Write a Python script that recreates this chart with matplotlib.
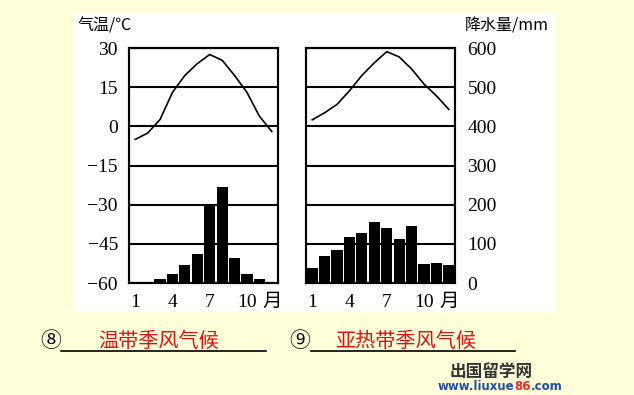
import matplotlib
matplotlib.use("Agg")
import matplotlib.pyplot as plt
from matplotlib.patches import Rectangle

# ---- data ----
months = list(range(1, 13))
temp_a = [-5, -2.6, 2.6, 13, 19.5, 24, 27.5, 25.3, 19.5, 13, 3.9, -2]
prec_a = [0, 0, 11, 24, 47, 75, 200, 245, 65, 24, 11, 0]
temp_b = [2.5, 5.2, 8.4, 13.6, 19.5, 24.3, 28.6, 26.6, 22, 16.2, 11.7, 6.5]
prec_b = [38, 68, 84, 117, 128, 155, 141, 112, 146, 49, 51, 47]
temp_ticks = [30, 15, 0, -15, -30, -45, -60]
prec_ticks = [600, 500, 400, 300, 200, 100, 0]
x_ticks = [1, 4, 7, 10, 12]
x_labels = ["1", "4", "7", "10", "月"]
answer_a = "温带季风气候"
answer_b = "亚热带季风气候"

W, H = 634, 395
BG = "#FFFFDA"
fig = plt.figure(figsize=(W / 100, H / 100), dpi=100, facecolor=BG)

def fx(px):
    return px / W

def fy(py):
    return 1 - py / H

fig.patches.append(Rectangle((fx(73), fy(312)), fx(555) - fx(73), fy(13) - fy(312),
                             transform=fig.transFigure, facecolor="white", edgecolor="none", zorder=-5))

SERIF = ["Liberation Serif", "Noto Sans CJK SC"]
CJK = ["Noto Sans CJK SC", "DejaVu Sans"]
LW = 1.5
TFS = 14

def make_panel(left_px, temps, precs, left_labels, right_labels):
    ax = fig.add_axes([fx(left_px), fy(283), fx(149), 235 / H])
    ax.set_xlim(0.5, 12.5)
    ax.set_ylim(-60, 30)
    tw = ax.twinx()
    tw.set_ylim(0, 600)
    tw.set_zorder(1)
    ax.set_zorder(2)
    ax.patch.set_visible(False)
    tw.bar(months, precs, width=0.9, color="black", zorder=2)
    for t in temp_ticks:
        ax.axhline(t, color="black", lw=LW, zorder=3)
    ax.plot(months, temps, color="black", lw=1.2, zorder=4)
    for a in (ax, tw):
        for s in a.spines.values():
            s.set_linewidth(LW)
    ax.set_yticks(temp_ticks)
    if left_labels:
        ax.set_yticklabels([str(t).replace("-", "\u2212") for t in temp_ticks],
                           fontfamily=SERIF, fontsize=TFS)
    else:
        ax.set_yticklabels([])
    tw.set_yticks(prec_ticks)
    if right_labels:
        tw.set_yticklabels([str(p) for p in prec_ticks], fontfamily=SERIF, fontsize=TFS)
    else:
        tw.set_yticklabels([])
    ax.set_xticks(x_ticks)
    ax.set_xticklabels(x_labels, fontfamily=SERIF, fontsize=TFS)
    ax.tick_params(axis="both", length=0, pad=8)
    tw.tick_params(axis="y", length=0, pad=9)
    return ax

make_panel(129, temp_a, prec_a, True, False)
make_panel(306, temp_b, prec_b, False, True)

fig.text(fx(78), fy(26), "气温/℃", fontfamily=CJK, fontsize=11.5, ha="left", va="center")
fig.text(fx(549), fy(26), "降水量/mm", fontfamily=CJK, fontsize=11.5, ha="right", va="center")

# answers
fig.text(fx(51), fy(341), "⑧", fontfamily=CJK, fontsize=15, ha="center", va="center")
fig.add_artist(plt.Line2D([fx(61), fx(266)], [fy(351), fy(351)], color="black", lw=1.2))
fig.text(fx(159), fy(341), answer_a, fontfamily=CJK, fontsize=14.5, color="#E01010", ha="center", va="center")
fig.text(fx(300), fy(341), "⑨", fontfamily=CJK, fontsize=15, ha="center", va="center")
fig.add_artist(plt.Line2D([fx(311), fx(515)], [fy(351), fy(351)], color="black", lw=1.2))
fig.text(fx(406), fy(341), answer_b, fontfamily=CJK, fontsize=14.5, color="#E01010", ha="center", va="center")

# watermark
fig.text(fx(491), fy(372), "出国留学网", fontfamily=CJK, fontsize=12, color="#333333",
         ha="center", va="center", fontweight="bold")
t1 = fig.text(fx(438), fy(386), "www.liuxue", fontfamily="DejaVu Sans", fontsize=8.5,
              color="#1F4E9E", ha="left", va="center", fontweight="bold")
fig.canvas.draw()
bb = t1.get_window_extent()
t2 = fig.text(bb.x1 / fig.dpi / fig.get_figwidth(), fy(386), "86", fontfamily="DejaVu Sans",
              fontsize=8.5, color="#E0302A", ha="left", va="center", fontweight="bold")
fig.canvas.draw()
bb2 = t2.get_window_extent()
fig.text(bb2.x1 / fig.dpi / fig.get_figwidth(), fy(386), ".com", fontfamily="DejaVu Sans",
         fontsize=8.5, color="#1F4E9E", ha="left", va="center", fontweight="bold")

fig.savefig("out.png", dpi=100, facecolor=BG)
